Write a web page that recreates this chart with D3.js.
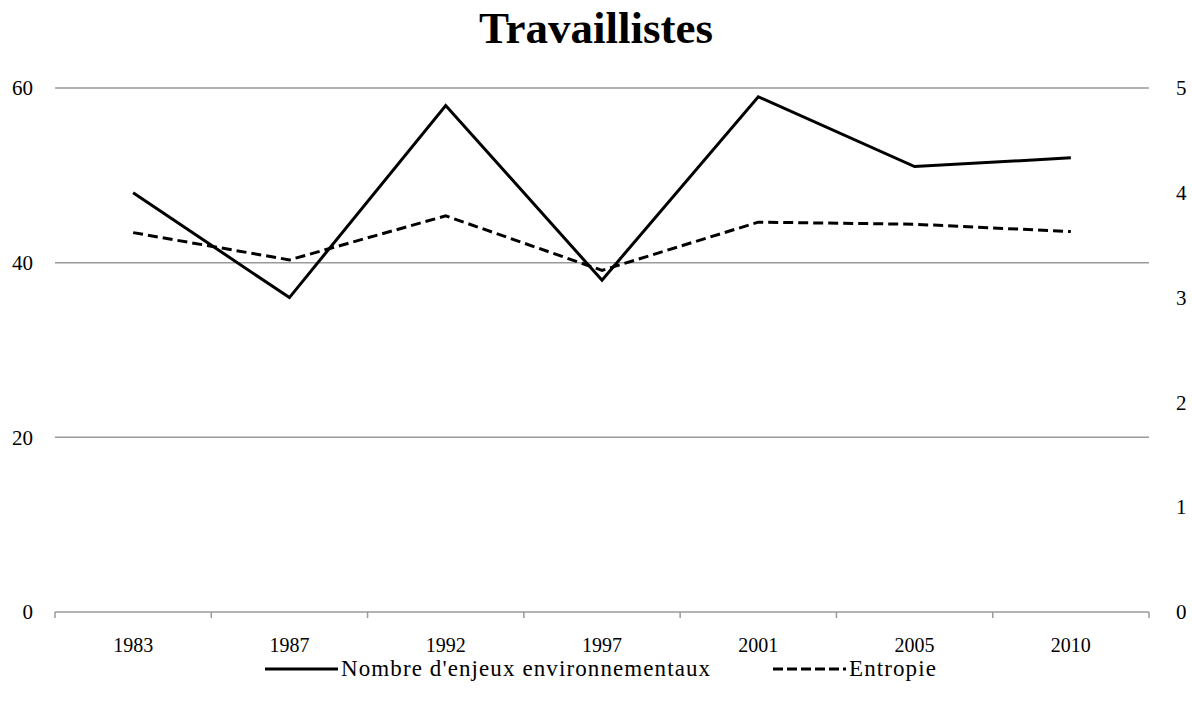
<!DOCTYPE html>
<html>
<head>
<meta charset="utf-8">
<script src="https://cdn.jsdelivr.net/npm/d3@7"></script>
<style>
body { margin: 0; background: #fff; }
svg text { font-family: 'Liberation Serif', 'Times New Roman', serif; fill: #000; }
</style>
</head>
<body>
<div class="chart"></div>
<script>
const years = ['1983', '1987', '1992', '1997', '2001', '2005', '2010']
const enjeux = [48, 36, 58, 38, 59, 51, 52]
const entropie = [3.62, 3.36, 3.78, 3.26, 3.72, 3.70, 3.63]
const leftTicks = [0, 20, 40, 60]
const rightTicks = [0, 1, 2, 3, 4, 5]
const seriesNames = ["Nombre d'enjeux environnementaux", 'Entropie']

const width = 1192
const height = 716
const margin = { top: 88, right: 43, bottom: 104, left: 55 }
const FONT_SIZE = 20
const GRID = '#9a9a9a'

const svg = d3.select('.chart').append('svg')
	.attr('width', width)
	.attr('height', height)

const scaleX = d3.scaleBand()
	.domain(years)
	.range([margin.left, width - margin.right])

const scaleY = d3.scaleLinear()
	.domain([0, 60])
	.range([height - margin.bottom, margin.top])

const scaleY2 = d3.scaleLinear()
	.domain([0, 5])
	.range([height - margin.bottom, margin.top])

// title
svg.append('text')
	.attr('x', 596)
	.attr('y', 43)
	.attr('text-anchor', 'middle')
	.style('font-size', '45px')
	.style('font-weight', 'bold')
	.text('Travaillistes')

// gridlines
svg.append('g').attr('class', 'grid')
	.selectAll('line')
	.data(leftTicks.filter(d => d > 0))
	.join('line')
	.attr('x1', scaleX.range()[0])
	.attr('x2', scaleX.range()[1])
	.attr('y1', d => scaleY(d))
	.attr('y2', d => scaleY(d))
	.style('stroke', GRID)
	.style('stroke-width', 1.5)

// left axis labels
const axisLeft = d3.axisLeft(scaleY).tickValues(leftTicks).tickSize(0).tickPadding(22)
const yL = svg.append('g')
	.attr('transform', `translate(${margin.left}, 0)`)
	.call(axisLeft)
yL.select('.domain').remove()
yL.selectAll('text').style('font-size', '21px').style('font-family', null)

// right axis labels
const axisRight = d3.axisRight(scaleY2).tickValues(rightTicks).tickFormat(d3.format('d')).tickSize(0).tickPadding(27)
const yR = svg.append('g')
	.attr('transform', `translate(${width - margin.right}, 0)`)
	.call(axisRight)
yR.select('.domain').remove()
yR.selectAll('text').style('font-size', '21px').style('font-family', null)

// x axis with ticks at band boundaries
const xg = svg.append('g')
	.attr('transform', `translate(0, ${scaleY(0)})`)
xg.append('line')
	.attr('x1', scaleX.range()[0])
	.attr('x2', scaleX.range()[1])
	.style('stroke', GRID)
	.style('stroke-width', 1.5)
const bounds = years.map(d => scaleX(d)).concat([scaleX.range()[1]])
xg.selectAll('.tick-mark')
	.data(bounds)
	.join('line')
	.attr('class', 'tick-mark')
	.attr('x1', d => d)
	.attr('x2', d => d)
	.attr('y1', 0)
	.attr('y2', 6)
	.style('stroke', GRID)
	.style('stroke-width', 1.5)
xg.selectAll('.tick-label')
	.data(years)
	.join('text')
	.attr('class', 'tick-label')
	.attr('x', d => scaleX(d) + scaleX.bandwidth() / 2)
	.attr('y', 40)
	.attr('text-anchor', 'middle')
	.style('font-size', FONT_SIZE + 'px')
	.text(d => d)

const cx = d => scaleX(d) + scaleX.bandwidth() / 2

const lineEnjeux = d3.line()
	.x((d, i) => cx(years[i]))
	.y(d => scaleY(d))

const lineEntropie = d3.line()
	.x((d, i) => cx(years[i]))
	.y(d => scaleY2(d))

svg.append('path')
	.datum(entropie)
	.attr('d', lineEntropie)
	.style('fill', 'none')
	.style('stroke', '#000')
	.style('stroke-width', 3)
	.style('stroke-dasharray', '10,5')

svg.append('path')
	.datum(enjeux)
	.attr('d', lineEnjeux)
	.style('fill', 'none')
	.style('stroke', '#000')
	.style('stroke-width', 3)

// legend
const legendY = 669
const legendItems = [
	{ name: seriesNames[0], x: 265, dash: null },
	{ name: seriesNames[1], x: 773, dash: '10,4' },
]
const lg = svg.append('g').attr('class', 'legend')
const item = lg.selectAll('g').data(legendItems).join('g')
	.attr('transform', d => `translate(${d.x}, ${legendY})`)
item.append('line')
	.attr('x1', 0)
	.attr('x2', 73)
	.style('stroke', '#000')
	.style('stroke-width', 3)
	.style('stroke-dasharray', d => d.dash)
item.append('text')
	.attr('x', 76)
	.attr('dy', '0.32em')
	.style('font-size', '23px')
	.style('letter-spacing', '1.1px')
	.text(d => d.name)
</script>
</body>
</html>
